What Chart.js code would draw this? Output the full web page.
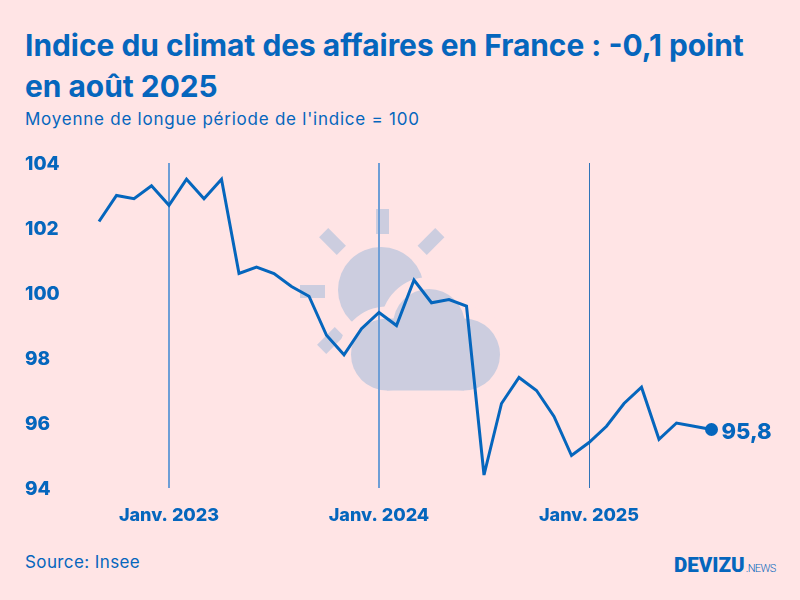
<!DOCTYPE html>
<html lang="fr">
<head>
<meta charset="utf-8">
<title>Indice du climat des affaires en France</title>
<script src="https://cdn.jsdelivr.net/npm/chart.js@4"></script>
<style>
  html, body { margin: 0; padding: 0; background: #ffe4e5; }
  #page { position: relative; width: 800px; height: 600px; overflow: hidden; color: #0566bd; font-family: Inter, sans-serif; }
  #page > * { position: absolute; }
  h1 { left: 25px; top: 25px; margin: 0; font-size: 29.9px; line-height: 41px; font-weight: 700; white-space: nowrap; }
  #sous-titre { left: 25px; top: 108px; font-size: 17px; line-height: 22px; letter-spacing: 0.76px; white-space: nowrap; }
  #source { left: 25px; top: 551px; font-size: 17px; line-height: 22px; letter-spacing: 0.4px; }
  #logo { left: 674px; top: 552px; font-family: Roboto, sans-serif; font-size: 20.5px; line-height: 26px; font-weight: 900; white-space: nowrap; }
  #logo span { font-size: 11px; font-weight: 300; letter-spacing: -0.6px; margin-left: 1px; }
  #meteo { left: 0; top: 0; }
  #graphique { left: 0; top: 0; }
</style>
</head>
<body>
<div id="page">
  <h1>Indice du climat des affaires en France : -0,1 point<br>en août 2025</h1>
  <div id="sous-titre">Moyenne de longue période de l'indice = 100</div>
  <div id="source">Source: Insee</div>
  <div id="logo">DEVIZU<span>.NEWS</span></div>

  <!-- Pictogramme météo derrière la courbe -->
  <svg id="meteo" width="800" height="600" fill="#cccddf">
    <circle cx="381" cy="290" r="43"/>
    <rect x="376" y="209" width="13" height="25"/>
    <rect x="300" y="285" width="25" height="13"/>
    <rect x="320" y="235" width="25" height="13" transform="rotate(45 332.5 241.5)"/>
    <rect x="418.500" y="235" width="25" height="13" transform="rotate(-45 431 241.5)"/>
    <rect x="318" y="334" width="25" height="13" transform="rotate(-45 330.5 340.5)"/>
    <g stroke="#ffe4e5" stroke-width="24">
      <circle cx="387" cy="354.500" r="36"/>
      <circle cx="429" cy="325" r="36"/>
      <circle cx="464" cy="354.500" r="36"/>
    </g>
    <circle cx="387" cy="354.500" r="36"/>
    <circle cx="429" cy="325" r="36"/>
    <circle cx="464" cy="354.500" r="36"/>
    <rect x="387" y="318.500" width="77" height="72"/>
  </svg>

  <canvas id="graphique" width="800" height="600"></canvas>
</div>

<script>
// Données (sept. 2022 à août 2025)
const mois = [
  "Sept. 2022", "Oct. 2022", "Nov. 2022", "Déc. 2022",
  "Janv. 2023", "Févr. 2023", "Mars 2023", "Avr. 2023", "Mai 2023", "Juin 2023",
  "Juil. 2023", "Août 2023", "Sept. 2023", "Oct. 2023", "Nov. 2023", "Déc. 2023",
  "Janv. 2024", "Févr. 2024", "Mars 2024", "Avr. 2024", "Mai 2024", "Juin 2024",
  "Juil. 2024", "Août 2024", "Sept. 2024", "Oct. 2024", "Nov. 2024", "Déc. 2024",
  "Janv. 2025", "Févr. 2025", "Mars 2025", "Avr. 2025", "Mai 2025", "Juin 2025",
  "Juil. 2025", "Août 2025",
];
const indice = [
  102.2, 103.0, 102.9, 103.3,
  102.7, 103.5, 102.9, 103.5, 100.6, 100.8,
  100.6, 100.2, 99.9, 98.7, 98.1, 98.9,
  99.4, 99.0, 100.4, 99.7, 99.8, 99.6,
  94.4, 96.6, 97.4, 97.0, 96.2, 95.0,
  95.4, 95.9, 96.6, 97.1, 95.5, 96.0,
  95.9, 95.8,
];
const graduationsY = [94, 96, 98, 100, 102, 104];
const etiquetteFin = "95,8";

const bleu = "#0566bd";

// Affiche la dernière valeur à droite du dernier point
const valeurFin = {
  id: "valeurFin",
  beforeDatasetsDraw(chart) {
    chart.ctx.miterLimit = 4;
  },
  afterDatasetsDraw(chart) {
    const points = chart.getDatasetMeta(0).data;
    const dernier = points[points.length - 1];
    const ctx = chart.ctx;
    ctx.save();
    ctx.fillStyle = bleu;
    ctx.font = "800 22px Inter, sans-serif";
    ctx.textAlign = "left";
    ctx.textBaseline = "middle";
    ctx.fillText(etiquetteFin, dernier.x + 10, dernier.y + 3);
    ctx.restore();
  },
};

new Chart(document.getElementById("graphique").getContext("2d"), {
  type: "line",
  data: {
    labels: mois,
    datasets: [
      {
        label: "Indice du climat des affaires",
        data: indice,
        borderColor: bleu,
        backgroundColor: bleu,
        borderWidth: 3,
        tension: 0,
        borderJoinStyle: "miter",
        clip: false,
        pointRadius: (c) => (c.dataIndex === indice.length - 1 ? 5 : 0),
        pointHoverRadius: 0,
      },
    ],
  },
  options: {
    responsive: false,
    animation: false,
    layout: { padding: { left: 25, right: 88.5, top: 163, bottom: 72 } },
    plugins: { legend: { display: false }, title: { display: false }, tooltip: { enabled: false } },
    scales: {
      x: {
        type: "category",
        offset: false,
        afterFit(scale) { scale.height = 40; },
        border: { display: false },
        grid: {
          // Les deux premiers traits sont plus larges et plus clairs
          color: (c) => (c.tick && c.tick.label === "Janv. 2025" ? "#2f74b8" : "#6e9ed6"),
          lineWidth: (c) => (c.tick && c.tick.label === "Janv. 2025" ? 1 : 2),
          drawTicks: false,
        },
        ticks: {
          autoSkip: false,
          maxRotation: 0,
          minRotation: 0,
          padding: 17,
          color: bleu,
          font: { family: "Inter, sans-serif", size: 18, weight: "800" },
          // Seuls les mois de janvier gardent un libellé et un trait vertical
          callback(value) {
            const nom = this.getLabelForValue(value);
            return nom.startsWith("Janv.") ? nom : null;
          },
        },
      },
      y: {
        min: graduationsY[0],
        max: graduationsY[graduationsY.length - 1],
        afterFit(scale) { scale.width = 74; },
        afterBuildTicks(scale) { scale.ticks = graduationsY.map((v) => ({ value: v })); },
        border: { display: false },
        grid: { display: false },
        ticks: {
          crossAlign: "far",
          padding: 0,
          labelOffset: 1,
          color: bleu,
          font: { family: "Inter, sans-serif", size: 19, weight: "800" },
        },
      },
    },
  },
  plugins: [valeurFin],
});
</script>
</body>
</html>
